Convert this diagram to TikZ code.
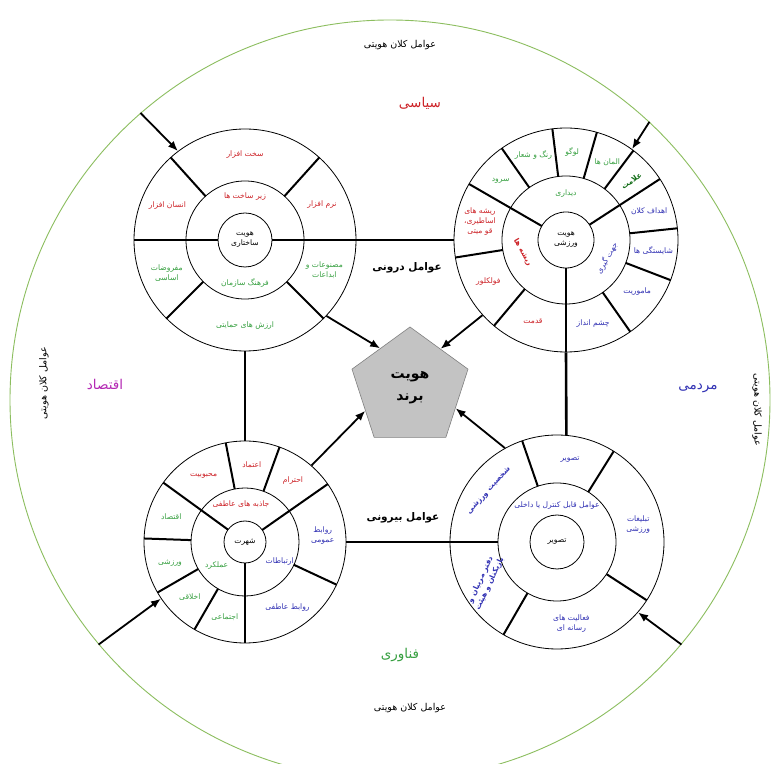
\documentclass[tikz,border=0pt]{standalone}
\usepackage{fontspec}
\newfontfamily\arabicfont[Script=Arabic]{DejaVu Sans}
\TeXXeTstate=1
\usetikzlibrary{shapes.geometric, arrows.meta}
\newcommand{\fa}[1]{\beginR #1\endR}
\definecolor{segred}{RGB}{205,35,40}
\definecolor{seggreen}{RGB}{55,160,65}
\definecolor{segblue}{RGB}{50,50,180}
\definecolor{dkgreen}{RGB}{20,110,25}
\definecolor{polmag}{RGB}{180,40,180}
\definecolor{macrogreen}{RGB}{140,190,95}
\definecolor{brandgray}{RGB}{195,195,195}
\tikzset{
  wheel/.style={circle, draw, inner sep=0pt, line width=0.8pt},
  ring/.style={line width=0.8pt},
  spoke/.style={line width=2pt},
  link/.style={line width=2.6pt},
  flow/.style={line width=1.8pt, -{Latex[length=10pt,width=8pt]}},
  lbl/.style={font=\arabicfont\fontsize{7.6}{10}\selectfont, align=center, inner sep=0.5pt},
  lblb/.style={font=\arabicfont\bfseries\fontsize{7.4}{10}\selectfont, align=center, inner sep=0.5pt},
  macro/.style={font=\arabicfont\fontsize{9.5}{11}\selectfont, inner sep=1pt},
  pole/.style={font=\arabicfont\fontsize{13.5}{15}\selectfont, inner sep=1pt},
  side/.style={font=\arabicfont\bfseries\fontsize{10.5}{12}\selectfont, inner sep=1pt}
}
\begin{document}
\begin{tikzpicture}[x=1pt, y=1pt]
\useasboundingbox (0,0) rectangle (776,763);
\clip (0,0) rectangle (776,763);
\fill[white] (0,0) rectangle (776,763);

% Big circle of macro factors
\node[circle, draw=macrogreen, line width=0.9pt, inner sep=0pt, minimum size=760] (outer) at (390,363) {};
\node[macro] (mtop) at (400,718) {\fa{عوامل کلان هویتی}};
\node[macro] (mbot) at (410,55) {\fa{عوامل کلان هویتی}};
\node[macro, rotate=90] (mleft) at (44,380) {\fa{عوامل کلان هویتی}};
\node[macro, rotate=-90] (mright) at (757,353) {\fa{عوامل کلان هویتی}};
\node[pole, segred] (siasi) at (420,660) {\fa{سیاسی}};
\node[pole, polmag] (eqtesad) at (105,378) {\fa{اقتصاد}};
\node[pole, segblue] (mardomi) at (698,375) {\fa{مردمی}};
\node[pole, seggreen] (fanavari) at (400,108) {\fa{فناوری}};

% Brand pentagon
\node[regular polygon, regular polygon sides=5, minimum size=122, fill=brandgray, draw=gray, line width=0.6pt,
  font=\arabicfont\bfseries\fontsize{14}{17}\selectfont, align=center] (brand) at (410,375) {\fa{هویت}\\[5pt]\fa{برند}};

% The four wheels
\node[wheel, minimum size=222] (TL) at (245,523) {};
\node[wheel, minimum size=224] (TR) at (566,523) {};
\node[wheel, minimum size=202] (BL) at (245,221) {};
\node[wheel, minimum size=214] (BR) at (557,221) {};

% Links between wheels
\draw[link] (TL.east) -- (TR.west);
\draw[link] (BL.east) -- (BR.west);
\draw[link] (TL.south) -- (BL.north);
\draw[link] (TR.south) -- (BR.85);
\node[side] (inner) at (407,495) {\fa{عوامل درونی}};
\node[side] (outside) at (403,245) {\fa{عوامل بیرونی}};

% Top left wheel: structural identity
\begin{scope}[shift={(TL.center)}]
\draw[ring] (0,0) circle (59);
\draw[ring] (0,0) circle (27);
\foreach \a in {48,132,225,315} \draw[spoke] (\a:59) -- (\a:111);
\foreach \a in {0,180} \draw[spoke] (\a:27) -- (\a:111);
\node[lbl, segred] (tl1) at (90:85) {\fa{سخت افزار}};
\node[lbl, segred] (tl2) at (25:85) {\fa{نرم افزار}};
\node[lbl, segred] (tl3) at (156:85) {\fa{انسان افزار}};
\node[lbl, seggreen] (tl4) at (203:85) {\fa{مفروضات}\\\fa{اساسی}};
\node[lbl, seggreen] (tl5) at (-21:85) {\fa{مصنوعات و}\\\fa{ابداعات}};
\node[lbl, seggreen] (tl6) at (-90:86) {\fa{ارزش های حمایتی}};
\node[lbl, segred] (tl7) at (90:43) {\fa{زیر ساخت ها}};
\node[lbl, seggreen] (tl8) at (-90:43) {\fa{فرهنگ سازمان}};
\node[lbl] (tl0) at (0,0) {\fa{هویت}\\\fa{ساختاری}};
\end{scope}

% Top right wheel: sport identity
\begin{scope}[shift={(TR.center)}]
\draw[ring] (0,0) circle (64);
\draw[ring] (0,0) circle (28);
\foreach \a in {97,74,53,6,-21,-55,-130,189,125} \draw[spoke] (\a:64) -- (\a:112);
\foreach \a in {33,-90,150} \draw[spoke] (\a:28) -- (\a:112);
\node[lbl, seggreen] (tr1) at (86:88) {\fa{لوگو}};
\node[lbl, seggreen] (tr2) at (62:88) {\fa{المان ها}};
\node[lblb, dkgreen, rotate=35] (tr3) at (42:88) {\fa{علامت}};
\node[lbl, segblue] (tr4) at (19:88) {\fa{اهداف کلان}};
\node[lbl, segblue] (tr5) at (-7:88) {\fa{شایستگی ها}};
\node[lbl, segblue] (tr6) at (-36:88) {\fa{ماموریت}};
\node[lbl, segblue] (tr7) at (-72:88) {\fa{چشم انداز}};
\node[lbl, segred] (tr8) at (-112:88) {\fa{قدمت}};
\node[lbl, segred] (tr9) at (-152:88) {\fa{فولکلور}};
\node[lbl, segred] (tr10) at (168:88) {\fa{ریشه های}\\\fa{اساطیری،}\\\fa{قو میتی}};
\node[lbl, seggreen] (tr11) at (138:88) {\fa{سرود}};
\node[lbl, seggreen] (tr12) at (111:91) {\fa{رنگ و شعار}};
\node[lbl, seggreen] (tr13) at (90:46) {\fa{دیداری}};
\node[lblb, segred, rotate=-60] (tr14) at (196:45) {\fa{ریشه ها}};
\node[lbl, segblue, rotate=60] (tr15) at (-24:45) {\fa{جهت گیری}};
\node[lbl] (tr0) at (0,0) {\fa{هویت}\\\fa{ورزشی}};
\end{scope}

% Bottom left wheel: reputation
\begin{scope}[shift={(BL.center)}]
\draw[ring] (0,0) circle (54);
\draw[ring] (0,0) circle (21);
\foreach \a in {101,70,-25,-120,-150,178} \draw[spoke] (\a:54) -- (\a:101);
\foreach \a in {35,-90,144} \draw[spoke] (\a:21) -- (\a:101);
\node[lbl, segred] (bl1) at (85:78) {\fa{اعتماد}};
\node[lbl, segred] (bl2) at (52:78) {\fa{احترام}};
\node[lbl, segred] (bl3) at (122:78) {\fa{محبوبیت}};
\node[lbl, segblue] (bl4) at (5:78) {\fa{روابط}\\\fa{عمومی}};
\node[lbl, segblue] (bl5) at (-57:78) {\fa{روابط عاطفی}};
\node[lbl, seggreen] (bl6) at (-105:78) {\fa{اجتماعی}};
\node[lbl, seggreen] (bl7) at (-135:78) {\fa{اخلاقی}};
\node[lbl, seggreen] (bl8) at (-164:78) {\fa{ورزشی}};
\node[lbl, seggreen] (bl9) at (161:78) {\fa{اقتصاد}};
\node[lbl, segred] (bl10) at (96:38) {\fa{جاذبه های عاطفی}};
\node[lbl, segblue] (bl11) at (-30:40) {\fa{ارتباطات}};
\node[lbl, seggreen] (bl12) at (-140:37) {\fa{عملکرد}};
\node[lbl] (bl0) at (0,0) {\fa{شهرت}};
\end{scope}

% Bottom right wheel: image
\begin{scope}[shift={(BR.center)}]
\draw[ring] (0,0) circle (59);
\draw[ring] (0,0) circle (27);
\foreach \a in {109,58,-33,-120,180} \draw[spoke] (\a:59) -- (\a:107);
\node[lbl, segblue] (br1) at (81:83) {\fa{تصویر}};
\node[lbl, segblue] (br2) at (12:83) {\fa{تبلیغات}\\\fa{ورزشی}};
\node[lbl, segblue] (br3) at (-80:83) {\fa{فعالیت های}\\\fa{رسانه ای}};
\node[lblb, segblue, rotate=65] (br4) at (-151:82) {\fa{دفتر مربیان و}\\\fa{بازیکنان و هیئت}};
\node[lblb, segblue, rotate=48] (br5) at (143:85) {\fa{شخصیت ورزشی}};
\node[lbl, segblue] (br6) at (90:36) {\fa{عوامل قابل کنترل یا داخلی}};
\node[lbl] (br0) at (0,0) {\fa{تصویر}};
\end{scope}

% Arrows into the brand
\draw[flow] (TL.-43) -- (brand.127);
\draw[flow] (TR.222) -- (brand.52);
\draw[flow] (BL.49) -- (brand.207);
\draw[flow] (BR.119) -- (brand.336);

% Arrows from the macro circle
\draw[flow] (outer.131) -- (TL.127);
\draw[flow] (outer.47) -- (TR.54);
\draw[flow] (outer.220) -- (BL.214);
\draw[flow] (outer.-40) -- (BR.-41);
\end{tikzpicture}
\end{document}
